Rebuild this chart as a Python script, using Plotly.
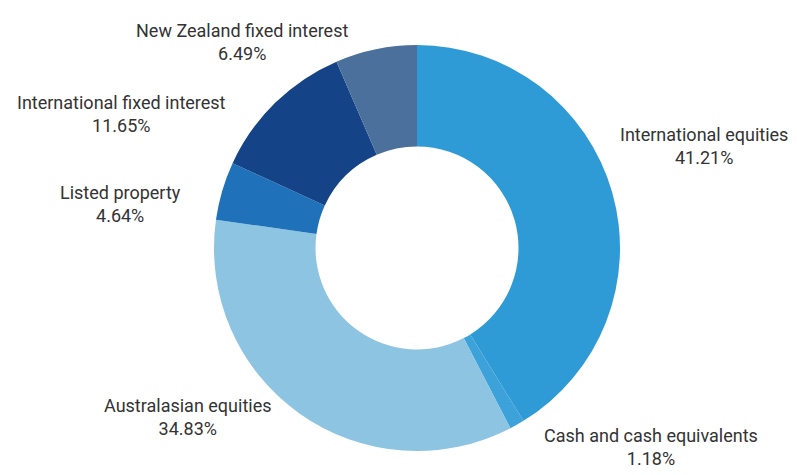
import plotly.graph_objects as go

categories = ["International equities", "Cash and cash equivalents", "Australasian equities",
              "Listed property", "International fixed interest", "New Zealand fixed interest"]
values = [41.21, 1.18, 34.83, 4.64, 11.65, 6.49]
colors = ["#2E9AD6", "#3DA2D9", "#8CC4E2", "#1F72BA", "#144487", "#4C709C"]

# label anchor positions (pixel coords in the 797x475 window)
label_pos = [(704, 146), (651, 447), (188, 417), (120, 204), (121, 114), (242, 42)]

OFF = 8  # default page body margin
W, H = 797 - OFF, 475 - OFF
cx, cy, r = 417 - OFF, 248 - OFF, 203

fig = go.Figure(go.Pie(
    labels=categories, values=values, sort=False, direction="clockwise", rotation=0,
    hole=0.5, marker=dict(colors=colors, line=dict(width=0)),
    textinfo="none", hoverinfo="label+percent", showlegend=False,
    domain=dict(x=[(cx - r) / W, (cx + r) / W], y=[1 - (cy + r) / H, 1 - (cy - r) / H]),
))

for cat, v, (px, py) in zip(categories, values, label_pos):
    fig.add_annotation(x=(px - OFF) / W, y=1 - (py - OFF) / H, xref="paper", yref="paper",
                       text=f"{cat}<br>{v:.2f}%", showarrow=False,
                       font=dict(family="Roboto", size=18, color="#333333"),
                       align="center", xanchor="center", yanchor="middle")

fig.update_layout(width=W, height=H, margin=dict(l=0, r=0, t=0, b=0),
                  paper_bgcolor="white", plot_bgcolor="white")
fig.write_html("out.html")
